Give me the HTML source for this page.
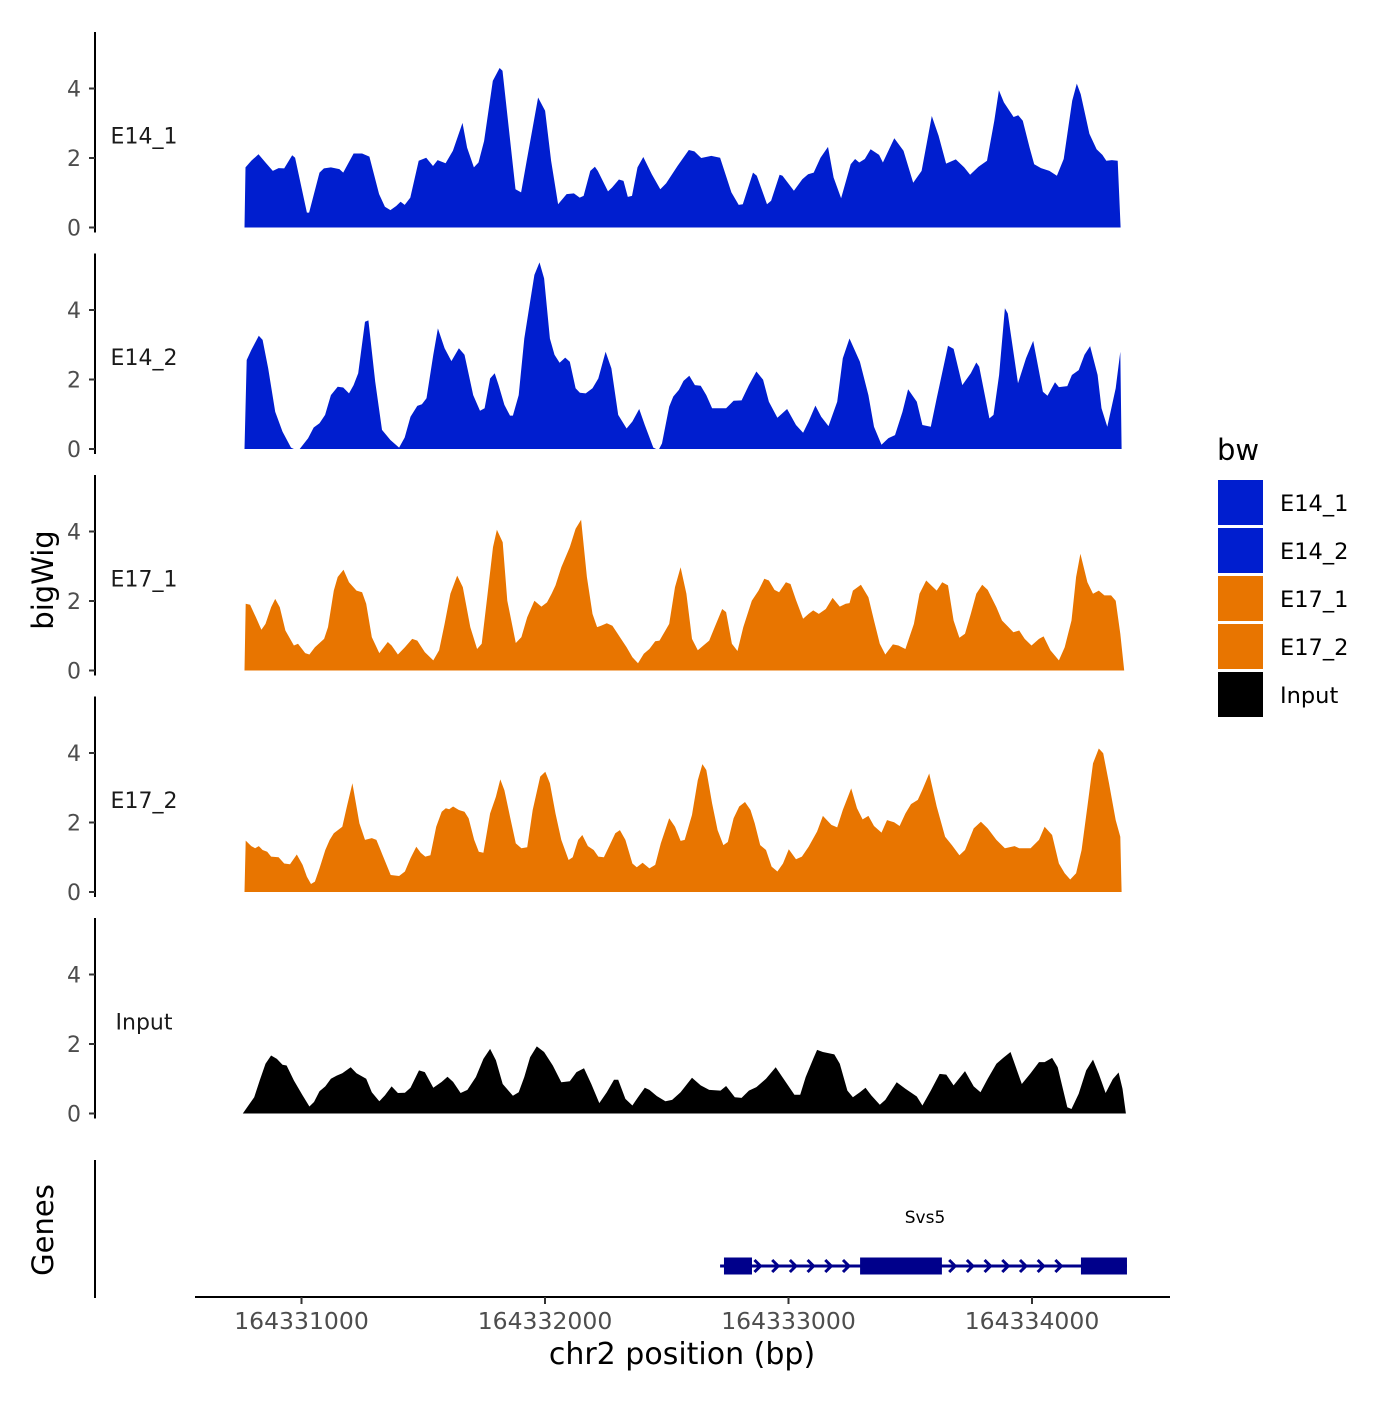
<!DOCTYPE html>
<html><head><meta charset="utf-8"><style>
html,body{margin:0;padding:0;background:#fff;}
svg text{font-family:"DejaVu Sans","Liberation Sans",sans-serif;}
</style></head><body>
<svg id="chart" width="1400" height="1400" viewBox="0 0 1400 1400" xmlns="http://www.w3.org/2000/svg">
<rect width="1400" height="1400" fill="#fff"/>
</svg>
<script>
const START = 164330747;
const tracks = ["E14_1","E14_2","E17_1","E17_2","Input"];
const trackColors = ["#001ECF","#001ECF","#E87500","#E87500","#000000"];
const yTicks = [0,2,4];
const xTicks = [164331000,164332000,164333000,164334000];
const xTickLabels = ["164331000","164332000","164333000","164334000"];

const pos_E14_1 = [19,23,47,77,106,136,160,183,216,228,277,286,329,347,376,411,427,470,505,535,575,599,622,646,664,681,704,739,770,798,817,850,880,920,939,967,986,1009,1045,1073,1085,1139,1162,1185,1232,1261,1286,1315,1350,1380,1404,1420,1448,1467,1479,1521,1538,1566,1585,1603,1620,1643,1667,1702,1737,1761,1808,1855,1878,1906,1948,1984,2031,2061,2078,2120,2136,2178,2195,2230,2242,2289,2324,2348,2371,2399,2430,2453,2484,2524,2542,2559,2582,2606,2641,2657,2704,2742,2782,2817,2859,2887,2918,2958,2993,3017,3052,3087,3117,3136,3157,3197,3216,3235,3263,3282,3310,3345,3376,3404,3439,3458,3474,3510,3540,3564,3580,3603,3627,3639];
const val_E14_1 = [0,1.73,1.92,2.11,1.87,1.63,1.71,1.70,2.08,2.01,0.43,0.43,1.58,1.70,1.73,1.68,1.58,2.13,2.13,2.04,0.96,0.60,0.50,0.62,0.74,0.65,0.86,1.92,2.01,1.77,1.94,1.85,2.21,3.01,2.30,1.73,1.87,2.49,4.22,4.59,4.51,1.10,1.01,1.92,3.74,3.36,1.92,0.67,0.96,0.98,0.86,0.91,1.63,1.75,1.63,1.04,1.15,1.38,1.34,0.88,0.91,1.73,2.03,1.53,1.10,1.27,1.77,2.23,2.19,2.00,2.06,2.01,1.01,0.65,0.67,1.58,1.49,0.67,0.77,1.52,1.49,1.06,1.39,1.53,1.58,2.01,2.32,1.44,0.84,1.82,1.97,1.87,1.97,2.25,2.09,1.87,2.57,2.21,1.29,1.63,3.21,2.64,1.84,1.96,1.73,1.52,1.75,1.92,3.07,3.95,3.60,3.18,3.23,3.07,2.30,1.82,1.71,1.63,1.49,1.97,3.65,4.14,3.84,2.70,2.25,2.09,1.92,1.94,1.92,0];

const pos_E14_2 = [19,28,47,78,94,117,146,176,211,223,247,282,305,329,352,376,404,427,451,470,489,517,531,559,587,622,658,681,705,733,752,771,799,818,846,874,905,928,964,992,1011,1034,1053,1069,1093,1116,1128,1152,1175,1199,1217,1238,1257,1281,1300,1321,1344,1363,1387,1405,1429,1457,1481,1511,1535,1563,1598,1622,1650,1673,1708,1720,1732,1744,1774,1791,1814,1833,1857,1880,1904,1927,1951,2009,2040,2073,2103,2134,2162,2186,2221,2261,2298,2327,2350,2378,2402,2432,2468,2491,2519,2562,2597,2620,2651,2679,2707,2738,2761,2797,2820,2855,2879,2926,2949,2985,3020,3043,3055,3097,3114,3137,3161,3173,3215,3248,3278,3318,3337,3368,3384,3419,3438,3466,3490,3513,3544,3560,3584,3619,3638,3643];
const val_E14_2 = [0,2.56,2.85,3.26,3.14,2.32,1.07,0.50,0.04,0,0,0.31,0.62,0.74,0.98,1.55,1.79,1.77,1.60,1.84,2.18,3.66,3.70,1.94,0.55,0.26,0.04,0.33,0.93,1.24,1.29,1.46,2.71,3.47,2.90,2.53,2.90,2.71,1.55,1.10,1.17,2.03,2.18,1.84,1.27,0.96,0.96,1.55,3.18,4.24,5.01,5.37,4.91,3.18,2.71,2.48,2.63,2.51,1.75,1.62,1.60,1.75,2.03,2.80,2.32,0.98,0.59,0.79,1.15,0.69,0.04,0,0,0.16,1.22,1.51,1.70,1.96,2.11,1.84,1.82,1.55,1.17,1.17,1.39,1.40,1.84,2.23,1.99,1.36,0.90,1.15,0.69,0.47,0.79,1.25,0.93,0.66,1.36,2.61,3.18,2.51,1.55,0.64,0.12,0.31,0.40,1.07,1.72,1.36,0.69,0.64,1.46,2.97,2.88,1.84,2.18,2.49,2.37,0.88,0.98,2.13,4.05,3.90,1.89,2.61,3.11,1.65,1.53,1.92,1.78,1.81,2.13,2.27,2.71,2.96,2.13,1.17,0.64,1.75,2.80,0];

const pos_E17_1 = [19,24,42,66,89,106,129,146,165,188,223,240,270,287,310,348,364,388,404,428,451,482,505,522,545,576,611,627,653,682,712,733,764,799,823,846,870,898,921,952,980,999,1022,1046,1062,1086,1105,1140,1163,1187,1217,1246,1269,1288,1304,1328,1363,1387,1410,1434,1457,1476,1492,1516,1539,1570,1598,1622,1645,1669,1692,1716,1734,1758,1774,1798,1821,1845,1868,1892,1915,1939,1962,1993,2009,2033,2056,2080,2115,2143,2167,2186,2209,2228,2256,2275,2298,2327,2350,2369,2392,2421,2449,2479,2503,2519,2533,2566,2597,2620,2644,2667,2698,2721,2750,2785,2808,2836,2879,2902,2926,2949,2973,2996,3020,3043,3067,3090,3126,3149,3173,3196,3220,3243,3271,3302,3321,3349,3384,3408,3436,3455,3473,3502,3525,3549,3572,3600,3619,3638,3654];
const val_E17_1 = [0,1.92,1.89,1.53,1.17,1.34,1.82,2.06,1.82,1.15,0.72,0.77,0.50,0.46,0.67,0.91,1.25,2.30,2.69,2.90,2.54,2.30,2.25,1.92,0.96,0.50,0.82,0.72,0.46,0.67,0.91,0.86,0.53,0.29,0.58,1.34,2.21,2.73,2.40,1.25,0.62,0.77,2.11,3.55,4.05,3.69,2.01,0.79,0.96,1.53,2.01,1.84,1.96,2.21,2.45,2.97,3.55,4.08,4.34,2.69,1.63,1.25,1.29,1.36,1.29,0.96,0.67,0.38,0.21,0.48,0.62,0.84,0.86,1.15,1.34,2.40,2.97,2.21,0.91,0.58,0.72,0.86,1.25,1.77,1.68,0.77,0.56,1.25,2.01,2.30,2.64,2.59,2.32,2.25,2.54,2.49,2.03,1.49,1.63,1.73,1.63,1.77,2.09,1.84,1.92,1.94,2.30,2.47,2.11,1.44,0.77,0.46,0.75,0.72,0.62,1.34,2.21,2.59,2.30,2.54,2.45,1.44,0.94,1.06,1.63,2.21,2.47,2.32,1.82,1.44,1.27,1.10,1.15,0.91,0.72,0.91,0.98,0.58,0.29,0.67,1.44,2.69,3.36,2.54,2.21,2.30,2.16,2.16,2.01,1.06,0];

const pos_E17_2 = [19,24,47,63,78,94,113,129,160,183,207,235,259,277,294,310,329,353,371,388,423,442,465,494,517,545,564,592,623,658,682,705,729,747,766,787,811,834,851,865,881,905,928,945,968,987,1006,1034,1058,1076,1093,1116,1140,1163,1187,1210,1241,1262,1281,1304,1328,1358,1375,1398,1415,1438,1462,1481,1504,1528,1551,1570,1593,1622,1640,1664,1692,1716,1739,1774,1798,1821,1838,1868,1892,1911,1927,1951,1974,1998,2016,2040,2063,2087,2110,2127,2150,2174,2197,2221,2244,2268,2298,2322,2350,2385,2409,2444,2468,2491,2526,2550,2573,2597,2620,2651,2674,2703,2726,2750,2773,2801,2820,2848,2879,2914,2942,2973,2996,3032,3062,3090,3126,3161,3201,3220,3267,3302,3325,3356,3384,3408,3431,3455,3478,3502,3525,3549,3567,3591,3619,3638,3643];
const val_E17_2 = [0,1.48,1.32,1.26,1.32,1.21,1.16,1.02,1.00,0.82,0.80,1.08,0.78,0.44,0.23,0.30,0.68,1.21,1.50,1.69,1.88,2.46,3.13,1.98,1.50,1.55,1.50,1.02,0.49,0.46,0.59,0.97,1.30,1.13,1.02,1.06,1.88,2.31,2.41,2.38,2.46,2.36,2.31,2.12,1.50,1.16,1.13,2.26,2.74,3.24,2.93,2.17,1.40,1.26,1.29,2.36,3.32,3.46,3.13,2.26,1.50,0.92,1.00,1.50,1.64,1.32,1.21,1.02,1.00,1.35,1.69,1.78,1.50,0.82,0.71,0.84,0.68,0.78,1.40,2.12,1.88,1.47,1.50,2.22,3.22,3.68,3.51,2.55,1.78,1.35,1.44,2.12,2.46,2.59,2.36,1.98,1.35,1.21,0.73,0.59,0.82,1.23,0.94,1.02,1.30,1.74,2.19,1.93,1.86,2.36,2.98,2.41,2.09,2.19,1.90,1.71,2.07,2.01,1.90,2.26,2.53,2.65,2.94,3.41,2.46,1.59,1.35,1.06,1.21,1.83,2.02,1.83,1.50,1.26,1.32,1.26,1.26,1.50,1.88,1.64,0.82,0.54,0.36,0.54,1.21,2.46,3.70,4.13,3.99,3.13,2.07,1.59,0];

const pos_Input = [12,35,59,82,106,129,153,176,193,223,259,287,306,329,353,376,400,423,458,482,522,545,576,599,627,653,682,705,740,764,799,834,858,881,912,940,975,1006,1034,1058,1086,1128,1152,1175,1199,1227,1257,1293,1328,1363,1391,1422,1452,1485,1516,1546,1563,1593,1622,1645,1673,1692,1723,1758,1786,1821,1868,1904,1939,1986,2009,2045,2073,2103,2134,2174,2214,2256,2291,2315,2338,2369,2385,2409,2456,2479,2510,2533,2562,2585,2609,2644,2667,2714,2750,2797,2820,2855,2891,2919,2949,2996,3032,3060,3090,3126,3154,3184,3231,3267,3302,3325,3356,3379,3419,3436,3466,3497,3525,3549,3577,3607,3631,3647,3661];
const val_Input = [0,0.23,0.47,0.95,1.43,1.67,1.57,1.40,1.38,0.95,0.52,0.20,0.33,0.64,0.78,1.00,1.09,1.16,1.33,1.16,1.00,0.61,0.35,0.52,0.78,0.59,0.60,0.74,1.24,1.19,0.74,0.91,1.06,0.91,0.59,0.68,1.05,1.57,1.86,1.53,0.85,0.51,0.61,1.05,1.62,1.93,1.77,1.38,0.90,0.93,1.19,1.30,0.85,0.30,0.61,0.97,0.97,0.42,0.23,0.47,0.74,0.68,0.50,0.35,0.39,0.61,1.03,0.81,0.68,0.66,0.79,0.47,0.45,0.66,0.76,1.00,1.33,0.90,0.54,0.54,1.05,1.57,1.83,1.77,1.70,1.43,0.66,0.47,0.61,0.74,0.52,0.25,0.39,0.90,0.71,0.49,0.23,0.66,1.14,1.12,0.81,1.22,0.78,0.61,1.00,1.43,1.60,1.77,0.85,1.16,1.48,1.48,1.60,1.33,0.18,0.13,0.57,1.24,1.55,1.14,0.59,0.99,1.18,0.71,0];

const trackPos = [pos_E14_1,pos_E14_2,pos_E17_1,pos_E17_2,pos_Input];
const trackVals = [val_E14_1,val_E14_2,val_E17_1,val_E17_2,val_Input];

const geneName = "Svs5";
const geneStart = 164332719, geneEnd = 164334390;
const exonStarts = [164332735,164333294,164334201];
const exonEnds = [164332850,164333630,164334390];

const NS = "http://www.w3.org/2000/svg";
const svg = document.getElementById("chart");
function mk(tag, attrs, parent){ const e=document.createElementNS(NS,tag); for(const k in attrs) e.setAttribute(k,attrs[k]); (parent||svg).appendChild(e); return e; }
function xScale(bp){ return 301.5 + (bp-164331000)*0.2435; }
const POS_CAL = 0.9939;
function trackX(off){ return xScale(START + off*POS_CAL); }
const panelZero = [227.5,449,670.5,892,1113.5];
const PX_PER_UNIT = 34.75;
function yScale(i,v){ return panelZero[i] - v*PX_PER_UNIT; }

tracks.forEach((name,i)=>{
  const g = mk("g",{});
  
  
  const ax = mk("line",{x1:95,x2:95,y1:panelZero[i]-195.5,y2:panelZero[i]+5,stroke:"#000","stroke-width":2},g);
  
  
  yTicks.forEach(t=>{
    const y=yScale(i,t);
    const tk = mk("line",{x1:89,x2:95,y1:y,y2:y,stroke:"#333","stroke-width":2},g);
    
    
    const tl = mk("text",{x:81,y:y+8,"text-anchor":"end","font-size":22,fill:"#4d4d4d"},g);
    tl.textContent = String(t);
    
    
  });
  const P=trackPos[i], V=trackVals[i];
  let d = "M"+trackX(P[0]).toFixed(1)+","+panelZero[i];
  for(let k=0;k<P.length;k++) d += "L"+trackX(P[k]).toFixed(1)+","+yScale(i,V[k]).toFixed(1);
  d += "L"+trackX(P[P.length-1]).toFixed(1)+","+panelZero[i]+"Z";
  const area = mk("path",{d:d,fill:trackColors[i]},g);
  
  
  const lbl = mk("text",{x:144,y:panelZero[i]-84,"text-anchor":"middle","font-size":22,fill:"#1a1a1a"},g);
  lbl.textContent = name;
  
  
});

const yt = mk("text",{x:0,y:0,transform:"translate(53,580) rotate(-90)","text-anchor":"middle","font-size":29,fill:"#000"});
yt.textContent="bigWig";



const ga = mk("line",{x1:95,x2:95,y1:1160,y2:1298,stroke:"#000","stroke-width":2});


const gt = mk("text",{x:0,y:0,transform:"translate(53,1230) rotate(-90)","text-anchor":"middle","font-size":29,fill:"#000"});
gt.textContent="Genes";



const gene = mk("g",{});


const gy = 1266;
mk("line",{x1:xScale(geneStart),x2:xScale(geneEnd),y1:gy,y2:gy,stroke:"#00008B","stroke-width":3},gene);
for(let x=xScale(geneStart)+3; x<xScale(geneEnd); x+=17.7){
  let inExon=false;
  for(let e=0;e<exonStarts.length;e++){ if(x>xScale(exonStarts[e])-4 && x<xScale(exonEnds[e])+3) inExon=true; }
  if(inExon) continue;
  const c = mk("path",{d:`M${x-4},${gy-6}L${x+2},${gy}L${x-4},${gy+6}`,fill:"none",stroke:"#00008B","stroke-width":3},gene);
  
  
}
exonStarts.forEach((s,e)=>{
  const r = mk("rect",{x:xScale(s),y:gy-8.5,width:xScale(exonEnds[e])-xScale(s),height:17,fill:"#00008B"},gene);
  
  
});
const gl = mk("text",{x:925,y:1223,"text-anchor":"middle","font-size":17,fill:"#000"},gene);
gl.textContent = geneName;



const xa = mk("line",{x1:195,x2:1170,y1:1297,y2:1297,stroke:"#000","stroke-width":2});


xTicks.forEach((t,k)=>{
  const x=xScale(t);
  const tk = mk("line",{x1:x,x2:x,y1:1297,y2:1304,stroke:"#333","stroke-width":2});
  
  
  const tl = mk("text",{x:x,y:1329,"text-anchor":"middle","font-size":23.5,fill:"#4d4d4d"});
  tl.textContent = xTickLabels[k];
  
  
});
const xt = mk("text",{x:682,y:1364,"text-anchor":"middle","font-size":30,fill:"#000"});
xt.textContent="chr2 position (bp)";



const leg = mk("g",{});


const lt = mk("text",{x:1217,y:460,"font-size":29,fill:"#000"},leg);
lt.textContent="bw";


tracks.forEach((name,i)=>{
  const y = 480 + i*48;
  const r = mk("rect",{x:1218,y:y,width:45,height:45,fill:trackColors[i]},leg);
  
  
  const t = mk("text",{x:1280,y:y+31,"font-size":22.5,fill:"#000"},leg);
  t.textContent=name;
  
  
});
</script>
</body></html>
